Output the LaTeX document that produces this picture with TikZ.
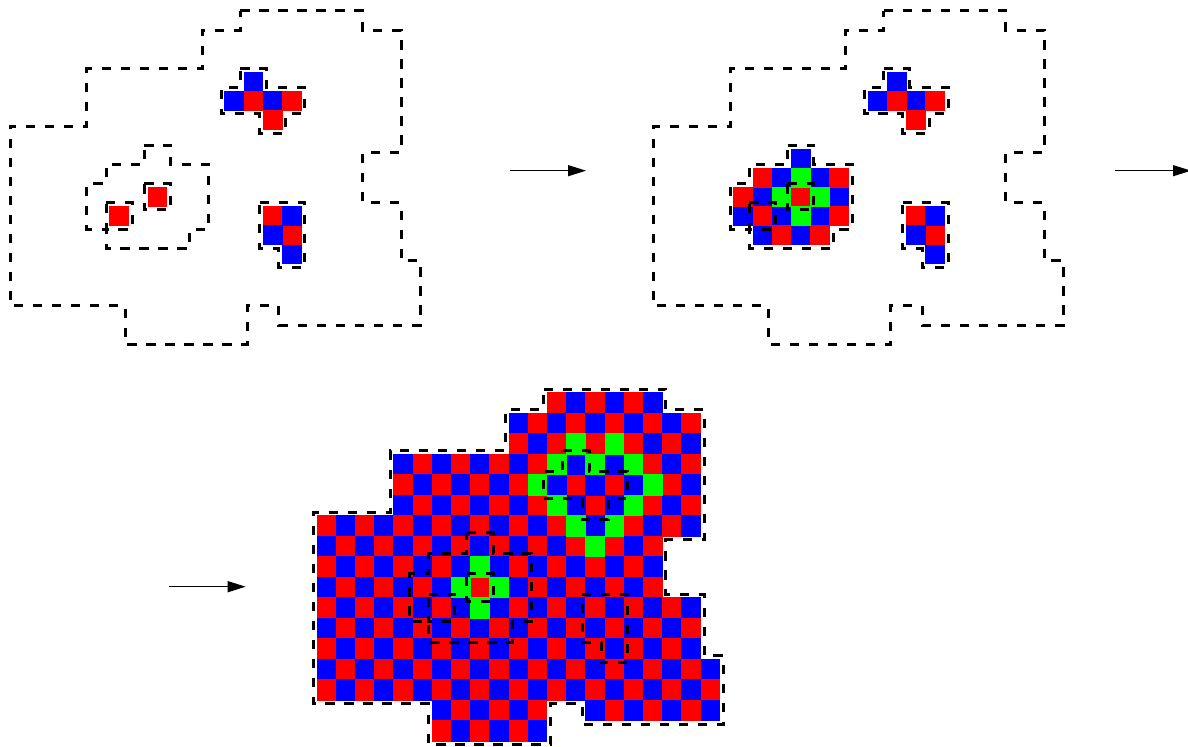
\documentclass[tikz,border=0pt]{standalone}
\usetikzlibrary{arrows.meta}
\definecolor{cred}{RGB}{255,0,0}
\definecolor{cblue}{RGB}{0,0,255}
\definecolor{cgreen}{RGB}{0,255,0}
\tikzset{
  outl/.style={line width=1.5pt, dash pattern=on 4.6pt off 4.9pt},
  arr/.style={line width=0.6pt, -{Triangle[length=9pt,width=5.5pt]}},
}
\newcommand\cellfill[2]{\foreach \xx/\yy in {#2}{\fill[#1] (\xx-0.015,\yy-0.015) rectangle ++(1.03,1.03);}}
\newcommand\outerline{\draw[outl] (12-\offx,0-\offy) -- (18+\offx,0-\offy) -- (18+\offx,1-\offy) -- (20+\offx,1-\offy) -- (20+\offx,7+\offy) -- (18+\offx,7+\offy) -- (18+\offx,10-\offy) -- (20+\offx,10-\offy) -- (20+\offx,13-\offy) -- (21+\offx,13-\offy) -- (21+\offx,16+\offy) -- (14-\offx,16+\offy) -- (14-\offx,15+\offy) -- (12+\offx,15+\offy) -- (12+\offx,17+\offy) -- (6-\offx,17+\offy) -- (6-\offx,15+\offy) -- (0-\offx,15+\offy) -- (0-\offx,6-\offy) -- (4-\offx,6-\offy) -- (4-\offx,3-\offy) -- (10-\offx,3-\offy) -- (10-\offx,1-\offy) -- (12-\offx,1-\offy) -- cycle;}
\newcommand\crossline{\draw[outl] (12-\offx,3-\offy) -- (13+\offx,3-\offy) -- (13+\offx,4-\offy) -- (15+\offx,4-\offy) -- (15+\offx,5+\offy) -- (14+\offx,5+\offy) -- (14+\offx,6+\offy) -- (13-\offx,6+\offy) -- (13-\offx,5+\offy) -- (11-\offx,5+\offy) -- (11-\offx,4-\offy) -- (12-\offx,4-\offy) -- cycle;}
\newcommand\lline{\draw[outl] (13-\offx,10-\offy) -- (15+\offx,10-\offy) -- (15+\offx,13+\offy) -- (14-\offx,13+\offy) -- (14-\offx,12+\offy) -- (13-\offx,12+\offy) -- cycle;}
\newcommand\smallline{\draw[outl] (7-\offx,7-\offy) -- (8+\offx,7-\offy) -- (8+\offx,8-\offy) -- (10+\offx,8-\offy) -- (10+\offx,11+\offy) -- (9+\offx,11+\offy) -- (9+\offx,12+\offy) -- (5-\offx,12+\offy) -- (5-\offx,11+\offy) -- (4-\offx,11+\offy) -- (4-\offx,9-\offy) -- (5-\offx,9-\offy) -- (5-\offx,8-\offy) -- (7-\offx,8-\offy) -- cycle;
  \draw[outl] (7-\offx,9-\offy) -- (8+\offx,9-\offy) -- (8+\offx,10+\offy) -- (7-\offx,10+\offy) -- cycle;
  \draw[outl] (5-\offx,10-\offy) -- (6+\offx,10-\offy) -- (6+\offx,11+\offy) -- (5-\offx,11+\offy) -- cycle;}
\newcommand\crosscells{\cellfill{cblue}{12/3,11/4,13/4}\cellfill{cred}{12/4,14/4,13/5}}
\newcommand\lcells{\cellfill{cred}{13/10,14/11}\cellfill{cblue}{14/10,13/11,14/12}}
\begin{document}
\begin{tikzpicture}[x=0.5pt,y=-0.5pt]
\useasboundingbox (0,0) rectangle (1188,747);
% panel 1
\begin{scope}[xshift=6.75pt,yshift=-7.25pt,x=9.6pt,y=-9.6pt]
  \def\offx{0.182}\def\offy{0.182}
  \crosscells
  \lcells
  \cellfill{cred}{7/9,5/10}
  \outerline
  \crossline
  \lline
  \smallline
\end{scope}
% panel 2
\begin{scope}[xshift=328.4pt,yshift=-7.25pt,x=9.6pt,y=-9.6pt]
  \def\offx{0.182}\def\offy{0.182}
  \crosscells
  \lcells
  \cellfill{cblue}{7/7,6/8,8/8,5/9,9/9,4/10,6/10,8/10,5/11,7/11}
  \cellfill{cred}{5/8,9/8,4/9,7/9,5/10,9/10,6/11,8/11}
  \cellfill{cgreen}{7/8,6/9,8/9,7/10}
  \outerline
  \crossline
  \lline
  \smallline
\end{scope}
% panel 3
\begin{scope}[xshift=158.4pt,yshift=-196.4pt,x=9.6pt,y=-10.25pt]
  \def\offx{0.182}\def\offy{0.171}
  \foreach \yy/\xa/\xb in {0/12/17,1/10/19,2/10/19,3/4/19,4/4/19,5/4/19,6/0/19,7/0/17,8/0/17,9/0/17,10/0/19,11/0/19,12/0/19,13/0/20,14/0/20,15/6/11,15/14/20,16/6/11}{
    \foreach \xx in {\xa,...,\xb}{
      \pgfmathtruncatemacro\pp{mod(\xx+\yy,2)}
      \ifnum\pp=0 \fill[cred] (\xx-0.015,\yy-0.015) rectangle ++(1.03,1.03);
      \else \fill[cblue] (\xx-0.015,\yy-0.015) rectangle ++(1.03,1.03);\fi
    }
  }
  \cellfill{cred}{8/9,13/4,15/4,14/5}
  \cellfill{cblue}{13/3,15/3,12/4,14/4,16/4,13/5,15/5,14/6}
  \cellfill{cgreen}{13/2,15/2,12/3,14/3,16/3,11/4,17/4,12/5,16/5,13/6,15/6,14/7,8/8,7/9,9/9,8/10}
  \outerline
  \begin{scope}[shift={(1,0)}]
    \crossline
    \lline
    \smallline
  \end{scope}
\end{scope}
% arrows
\coordinate (a1s) at (510,170.7);
\coordinate (a1e) at (586,170.7);
\coordinate (a2s) at (1115,170.7);
\coordinate (a2e) at (1191,170.7);
\coordinate (a3s) at (169,586.7);
\coordinate (a3e) at (245.7,586.7);
\draw[arr] (a1s) -- (a1e);
\draw[arr] (a2s) -- (a2e);
\draw[arr] (a3s) -- (a3e);
\end{tikzpicture}
\end{document}
